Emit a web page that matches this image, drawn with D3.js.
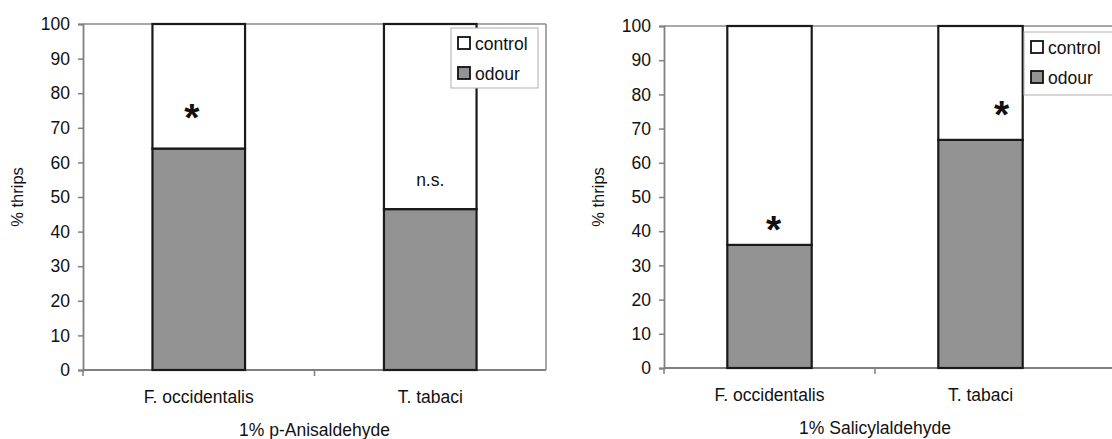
<!DOCTYPE html>
<html>
<head>
<meta charset="utf-8">
<script src="https://cdn.jsdelivr.net/npm/d3@7"></script>
<style>
  body { margin: 0; background: #fff; }
  text { font-family: "Liberation Sans", Arial, sans-serif; fill: #111; }
</style>
</head>
<body>
<svg id="chart" width="1112" height="439"></svg>
<script>
const categories = ["F. occidentalis", "T. tabaci"];
const yTicks = [0, 10, 20, 30, 40, 50, 60, 70, 80, 90, 100];
const legendLabels = ["control", "odour"];

// 1% p-Anisaldehyde
const anisOdour = [64, 46.5];
const anisControl = [36, 53.5];
const anisMarks = ["*", "n.s."];
const anisMarkAt = [75, 55];

// 1% Salicylaldehyde
const saliOdour = [36, 66.7];
const saliControl = [64, 33.3];
const saliMarks = ["*", "*"];
const saliMarkAt = [42.5, 76];

const svg = d3.select("#chart");
const odourFill = "#939393";
const fontSize = 17.5;

function drawPanel(p) {
  const g = svg.append("g");

  const x = d3.scaleBand().domain(categories)
      .range([p.left, p.right])
      .paddingInner(0.6).paddingOuter(0.3);
  const y = d3.scaleLinear().domain([0, 100]).range([p.bottom, p.top]);

  // gray plot frame (top and right)
  g.append("line")
      .attr("x1", p.left).attr("x2", p.frameRight)
      .attr("y1", p.top).attr("y2", p.top)
      .attr("stroke", "#8a8a8a").attr("stroke-width", 1.5);
  g.append("line")
      .attr("x1", p.frameRight).attr("x2", p.frameRight)
      .attr("y1", p.top).attr("y2", p.bottom)
      .attr("stroke", "#8a8a8a").attr("stroke-width", 1.5);

  // y axis
  const yAxis = g.append("g")
      .attr("transform", `translate(${p.left},0)`)
      .call(d3.axisLeft(y).tickValues(yTicks).tickSize(5).tickPadding(8));
  yAxis.select(".domain").attr("stroke", "#808080").attr("stroke-width", 1.8);
  yAxis.selectAll(".tick line").attr("stroke", "#808080").attr("stroke-width", 1.5);
  yAxis.selectAll(".tick text")
      .attr("font-size", fontSize).attr("font-family", "Liberation Sans, Arial, sans-serif")
      .attr("fill", "#111");

  // x axis line with boundary ticks
  g.append("line")
      .attr("x1", p.left).attr("x2", p.frameRight)
      .attr("y1", p.bottom).attr("y2", p.bottom)
      .attr("stroke", "#808080").attr("stroke-width", 1.8);
  const mid = (x(categories[0]) + x(categories[1]) + x.bandwidth()) / 2;
  [p.left, mid].forEach(bx => {
    g.append("line")
        .attr("x1", bx).attr("x2", bx)
        .attr("y1", p.bottom).attr("y2", p.bottom + 6)
        .attr("stroke", "#808080").attr("stroke-width", 1.5);
  });

  categories.forEach(c => {
    g.append("text")
        .attr("x", x(c) + x.bandwidth() / 2)
        .attr("y", p.bottom + 33)
        .attr("text-anchor", "middle")
        .attr("font-size", fontSize)
        .text(c);
  });

  // stacked bars
  categories.forEach((c, i) => {
    g.append("rect")
        .attr("x", x(c)).attr("width", x.bandwidth())
        .attr("y", y(p.odour[i])).attr("height", y(0) - y(p.odour[i]))
        .attr("fill", odourFill).attr("stroke", "#1a1a1a").attr("stroke-width", 2.2);
    g.append("rect")
        .attr("x", x(c)).attr("width", x.bandwidth())
        .attr("y", y(p.odour[i] + p.control[i])).attr("height", y(p.odour[i]) - y(p.odour[i] + p.control[i]))
        .attr("fill", "#fff").attr("stroke", "#1a1a1a").attr("stroke-width", 2.2);
  });

  // significance marks
  categories.forEach((c, i) => {
    const star = p.marks[i] === "*";
    g.append("text")
        .attr("x", x(c) + x.bandwidth() / 2 + (p.markDx[i] || 0))
        .attr("y", y(p.markAt[i]) + (star ? 20 : 6))
        .attr("text-anchor", "middle")
        .attr("font-size", star ? 39 : fontSize)
        .attr("font-weight", star ? "bold" : "normal")
        .text(p.marks[i]);
  });

  // axis titles
  g.append("text")
      .attr("transform", `translate(${p.left - 60},${(p.top + p.bottom) / 2}) rotate(-90)`)
      .attr("text-anchor", "middle")
      .attr("font-size", 16.5)
      .text("% thrips");
  g.append("text")
      .attr("x", mid)
      .attr("y", p.bottom + 66)
      .attr("text-anchor", "middle")
      .attr("font-size", fontSize)
      .text(p.title);

  // legend
  const lg = g.append("g").attr("transform", `translate(${p.legendX},${p.legendY})`);
  lg.append("rect")
      .attr("width", p.legendW).attr("height", p.legendH)
      .attr("fill", "#fff").attr("stroke", "#b0b0b0").attr("stroke-width", 1);
  legendLabels.forEach((lab, i) => {
    lg.append("rect")
        .attr("x", 7).attr("y", 9 + i * 30)
        .attr("width", 12).attr("height", 12)
        .attr("fill", i === 0 ? "#fff" : odourFill)
        .attr("stroke", "#111").attr("stroke-width", 1.8);
    lg.append("text")
        .attr("x", 24).attr("y", 22 + i * 30)
        .attr("font-size", fontSize)
        .text(lab);
  });
}

drawPanel({
  left: 83, right: 546, frameRight: 546, top: 24, bottom: 370,
  odour: anisOdour, control: anisControl,
  marks: anisMarks, markAt: anisMarkAt, markDx: [-7, 0],
  title: "1% p-Anisaldehyde",
  legendX: 451, legendY: 28, legendW: 87, legendH: 60
});

drawPanel({
  left: 664, right: 1086, frameRight: 1130, top: 26, bottom: 368,
  odour: saliOdour, control: saliControl,
  marks: saliMarks, markAt: saliMarkAt, markDx: [4, 21],
  title: "1% Salicylaldehyde",
  legendX: 1024, legendY: 32, legendW: 100, legendH: 63
});
</script>
</body>
</html>
